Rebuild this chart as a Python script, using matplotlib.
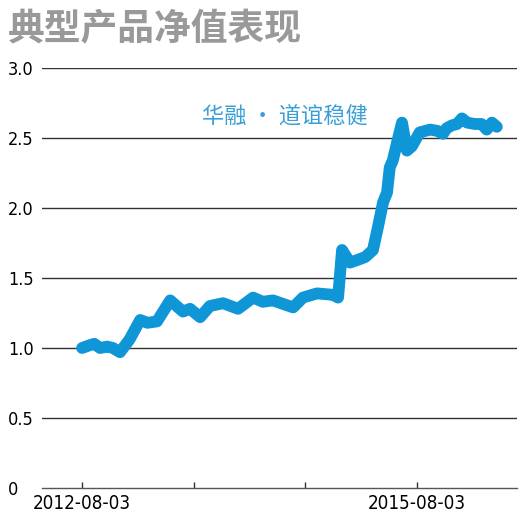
import matplotlib
matplotlib.use('Agg')
import matplotlib.pyplot as plt
import numpy as np
import pandas as pd

# =============================================================================
# DATA
# =============================================================================

dates = ['2012-08-03', '2012-08-28', '2012-09-12', '2012-10-01', '2012-10-24',
         '2012-11-12', '2012-12-05', '2013-01-05', '2013-02-09', '2013-03-05',
         '2013-04-05', '2013-05-18', '2013-06-29', '2013-07-22', '2013-08-24',
         '2013-09-25', '2013-11-07', '2013-12-26', '2014-02-13', '2014-03-17',
         '2014-04-19', '2014-06-24', '2014-07-26', '2014-09-10', '2014-11-01',
         '2014-11-18', '2014-12-01', '2014-12-27', '2015-01-22', '2015-02-15',
         '2015-03-12', '2015-03-28', '2015-04-14', '2015-04-27', '2015-05-06',
         '2015-05-16', '2015-05-29', '2015-06-15', '2015-07-01', '2015-07-17',
         '2015-08-12', '2015-09-15', '2015-10-10', '2015-10-27', '2015-11-08',
         '2015-11-25', '2015-12-12', '2015-12-28', '2016-01-14', '2016-02-08',
         '2016-03-01', '2016-03-18', '2016-04-04', '2016-04-20']
nav = [1.00, 1.02, 1.03, 1.00, 1.01,
       1.00, 0.97, 1.06, 1.20, 1.18,
       1.19, 1.34, 1.26, 1.28, 1.22,
       1.30, 1.32, 1.28, 1.36, 1.33,
       1.34, 1.29, 1.36, 1.39, 1.38,
       1.36, 1.70, 1.61, 1.63, 1.65,
       1.70, 1.86, 2.04, 2.11, 2.29,
       2.34, 2.46, 2.61, 2.41, 2.44,
       2.54, 2.56, 2.55, 2.53, 2.57,
       2.59, 2.60, 2.64, 2.61, 2.60,
       2.60, 2.56, 2.61, 2.58]

tick_dates = ['2012-08-03', '2013-08-03', '2014-08-03', '2015-08-03']
tick_labels = ['2012-08-03', '', '', '2015-08-03']
y_ticks = [0, 0.5, 1.0, 1.5, 2.0, 2.5, 3.0]
y_labels = ['0', '0.5', '1.0', '1.5', '2.0', '2.5', '3.0']

title = '典型产品净值表现'
series_name = '华融 · 道谊稳健'

# =============================================================================
# PLOT
# =============================================================================

cjk_font = ['Noto Sans CJK SC', 'DejaVu Sans']
num_kw = dict(family='DejaVu Sans', stretch='condensed')
blue = '#0f96d6'

fig = plt.figure(figsize=(5.22, 5.19), dpi=100)
ax = fig.add_axes([42 / 522, 31 / 519, 475 / 522, 420 / 519])

x = pd.to_datetime(dates)
ax.plot(x, nav, color=blue, lw=8.5, solid_capstyle='round',
        solid_joinstyle='round', zorder=3)

ax.set_ylim(0, 3.0)
ax.set_xlim(pd.Timestamp('2012-03-25'), pd.Timestamp('2016-06-25'))

for v in y_ticks[1:]:
    ax.axhline(v, color='#333333', lw=1, zorder=1)

for s in ['top', 'right', 'left']:
    ax.spines[s].set_visible(False)
ax.spines['bottom'].set_color('#555555')
ax.spines['bottom'].set_linewidth(1)

ax.set_yticks(y_ticks)
ax.set_yticklabels(y_labels, fontsize=13, ha='left', **num_kw)
ax.tick_params(axis='y', length=0, pad=24.5)

ax.set_xticks(pd.to_datetime(tick_dates))
ax.set_xticklabels(tick_labels, fontsize=13.5, **num_kw)
ax.tick_params(axis='x', direction='in', length=4.5, width=1,
               color='#333333', pad=4)

fig.text(202 / 522, 1 - 116 / 519, series_name,
         family=cjk_font, fontsize=16, weight='light', color='#3a9fd6',
         va='center', ha='left')

fig.text(8 / 522, 1 - 30 / 519, title, family=cjk_font, fontsize=26.5,
         weight='bold', color='#999999', va='center', ha='left')

fig.savefig('out.png', dpi=100)
